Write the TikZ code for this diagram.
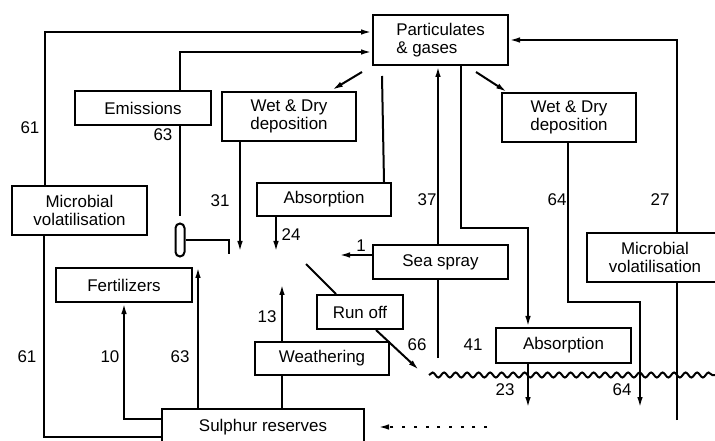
\documentclass[tikz,border=0pt]{standalone}
\usepackage{fontspec}
\setmainfont{Liberation Sans}
\usetikzlibrary{arrows.meta,calc,decorations.pathmorphing,backgrounds}
\begin{document}
\begin{tikzpicture}[x=1bp,y=-1bp, line width=2bp,
  box/.style={draw, fill=white, inner sep=0pt, align=center, font=\fontsize{17}{18}\selectfont},
  num/.style={font=\fontsize{17}{18}\selectfont, inner sep=0pt},
  ln/.style={line width=2bp},
  arr/.style={ln, -{Latex[length=11bp,width=5.5bp]}},
  wave/.style={ln, decorate, decoration={snake, segment length=11.5bp, amplitude=2.5bp}},
  dots/.style={dash pattern=on 3bp off 8.7bp}
]
\clip (0,0) rectangle (715,441);
% boxes
\node[box, minimum width=135bp, minimum height=50bp, align=left] (pg) at (440.5,40) {Particulates\\\& gases};
\node[box, minimum width=136bp, minimum height=34bp] (em) at (143,108) {Emissions};
\node[box, minimum width=134bp, minimum height=49bp] (wdl) at (289,116.5) {Wet \& Dry\\deposition};
\node[box, minimum width=135bp, minimum height=49bp] (mvl) at (79.5,210.5) {Microbial\\volatilisation};
\node[box, minimum width=134bp, minimum height=33bp] (abm) at (324,199.5) {Absorption};
\node[draw, fill=white, rounded corners=4.5bp, minimum width=9bp, minimum height=33bp, inner sep=0pt] (pill) at (180,240) {};
\node[box, minimum width=135bp, minimum height=34bp] (ss) at (440.5,262) {Sea spray};
\node[box, minimum width=86bp, minimum height=34bp] (ro) at (360,312) {Run off};
\node[box, minimum width=134bp, minimum height=33bp] (we) at (322,358.5) {Weathering};
\node[box, minimum width=134bp, minimum height=49bp] (wdr) at (569,117.5) {Wet \& Dry\\deposition};
\node[box, minimum width=135bp, minimum height=35bp] (abr) at (563.5,345.5) {Absorption};
\node[box, minimum width=136bp, minimum height=49bp] (mvr) at (655,257.5) {Microbial\\volatilisation};
\node[box, minimum width=136bp, minimum height=34bp] (fe) at (124,285) {Fertilizers};
\node[box, minimum width=202bp, minimum height=36bp] (sr) at (263,427) {Sulphur reserves};
% free ends
\coordinate (b37) at (438,358);
\coordinate (b27) at (677,420);
\coordinate (wl) at (429,375);
\coordinate (wr) at (715,375);
\coordinate (dd) at (487,427);
\begin{scope}[on background layer]
\draw[arr] ($(mvl.north west)+(34,0)$) |- ($(pg.west)+(0,-8)$);
\draw[arr] ($(em.north west)+(106,0)$) |- ($(pg.west)+(0,12)$);
\draw[arr] ($(pg.south west)+(-10,6)$) -- ($(wdl.north east)+(-25,-1)$);
\draw[ln] ($(pg.south west)+(10,10)$) -- ($(abm.north east)+(-8,0)$);
\draw[ln] (em.south -| pill.north) -- ($(pill.north)+(0,-6)$);
\draw[ln] (pill.east) -- ++(43,0) -- ++(0,14);
\draw[arr] ($(wdl.south west)+(19,0)$) -- ++(0,110);
\draw[arr] ($(abm.south west)+(20,0)$) -- ++(0,35);
\draw[arr] ($(ss.west)+(0,-7)$) -- ++(-33,0);
\draw[ln] ($(ro.north west)+(20,0)$) -- ++(-30,-30);
\draw[arr] ($(ro.south east)+(-28,0)$) -- ++(43,40);
\draw[arr] ($(we.north west)+(28,0)$) -- ++(0,-57);
\coordinate (wx) at ($(we.south west)+(28,0)$);
\draw[ln] (wx) -- (wx |- sr.north);
\draw[arr] ($(sr.north west)+(0,11)$) -| ($(fe.south west)+(69,0)$);
\coordinate (s63) at ($(sr.north west)+(37,0)$);
\draw[arr] (s63) -- (s63 |- fe.north);
\draw[ln] ($(mvl.south west)+(33,0)$) |- ($(sr.north west)+(0,29)$);
\draw[arr] (b37) -- (b37 |- pg.south);
\draw[arr] ($(pg.south west)+(89,0)$) -- ++(0,162) -| ($(abr.north west)+(33,0)$);
\draw[arr] ($(abr.south west)+(33,0)$) -- ++(0,44);
\draw[arr] ($(pg.south east)+(-33,6)$) -- ($(wdr.north west)+(6,0)$);
\draw[arr] ($(wdr.south west)+(67,0)$) -- ++(0,159) -- ++(72,0) -- ++(0,106);
\draw[arr] (b27) |- (pg.east);
\draw[wave] (wl) -- (wr);
\draw[arr, dots] (dd) -- ($(sr.east)+(13,0)$);
\end{scope}
% labels
\node[num] (n61a) at (30,128) {61};
\node[num] (n63a) at (163,135) {63};
\node[num] (n31) at (220,201) {31};
\node[num] (n24) at (291,235) {24};
\node[num] (n37) at (427,200) {37};
\node[num] (n64a) at (557,200) {64};
\node[num] (n27) at (660,200) {27};
\node[num] (n1) at (361,246) {1};
\node[num] (n13) at (267,317) {13};
\node[num] (n66) at (417,345) {66};
\node[num] (n41) at (473,345) {41};
\node[num] (n23) at (505,390) {23};
\node[num] (n64b) at (622,390) {64};
\node[num] (n61b) at (27,357) {61};
\node[num] (n10) at (110,357) {10};
\node[num] (n63b) at (180,357) {63};
\end{tikzpicture}
\end{document}
